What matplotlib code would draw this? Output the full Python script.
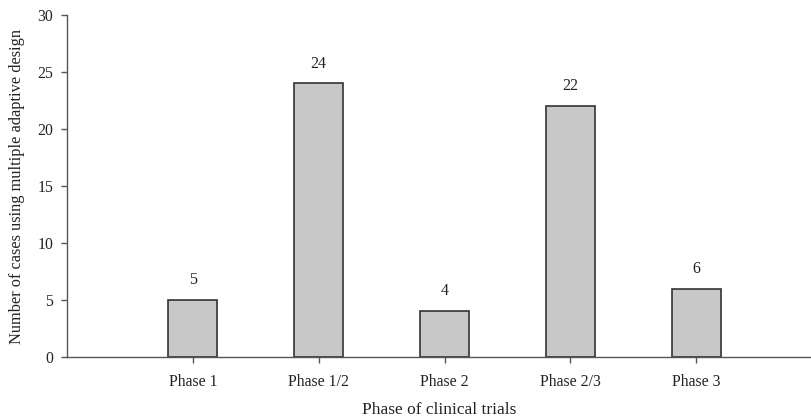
import matplotlib
matplotlib.use("Agg")
import matplotlib.pyplot as plt

categories = ["Phase 1", "Phase 1/2", "Phase 2", "Phase 2/3", "Phase 3"]
values = [5, 24, 4, 22, 6]

plt.rcParams['font.family'] = ['Liberation Serif', 'DejaVu Serif']

fig = plt.figure(figsize=(8.12, 4.2), dpi=100)
ax = fig.add_axes([0.0825, 0.15, 0.9175, 0.814])

pos = list(range(len(categories)))
ax.bar(pos, values, width=0.39, color="#c8c8c8", edgecolor="#333333", linewidth=1.2, zorder=2)
for p, v in zip(pos, values):
    ax.text(p, v + 1.05, str(v), ha="center", va="bottom", fontsize=11.5, color="#222222")

ax.set_xlim(-1, 4.92)
ax.set_ylim(0, 30)
ax.set_yticks(range(0, 31, 5))
ax.set_xticks(pos)
ax.set_xticklabels(categories)

for s in ["top", "right"]:
    ax.spines[s].set_visible(False)
for s in ["left", "bottom"]:
    ax.spines[s].set_color("#555555")
    ax.spines[s].set_linewidth(1.0)
ax.tick_params(axis="both", direction="out", length=4, width=1, color="#555555",
               labelsize=11.3, labelcolor="#222222")
ax.tick_params(axis="x", pad=8)
ax.tick_params(axis="y", pad=6)

ax.set_xlabel("Phase of clinical trials", fontsize=12.5, color="#222222", labelpad=9)
ax.set_ylabel("Number of cases using multiple adaptive design", fontsize=11.8, color="#222222", labelpad=9)

fig.savefig("out.png", dpi=100)
